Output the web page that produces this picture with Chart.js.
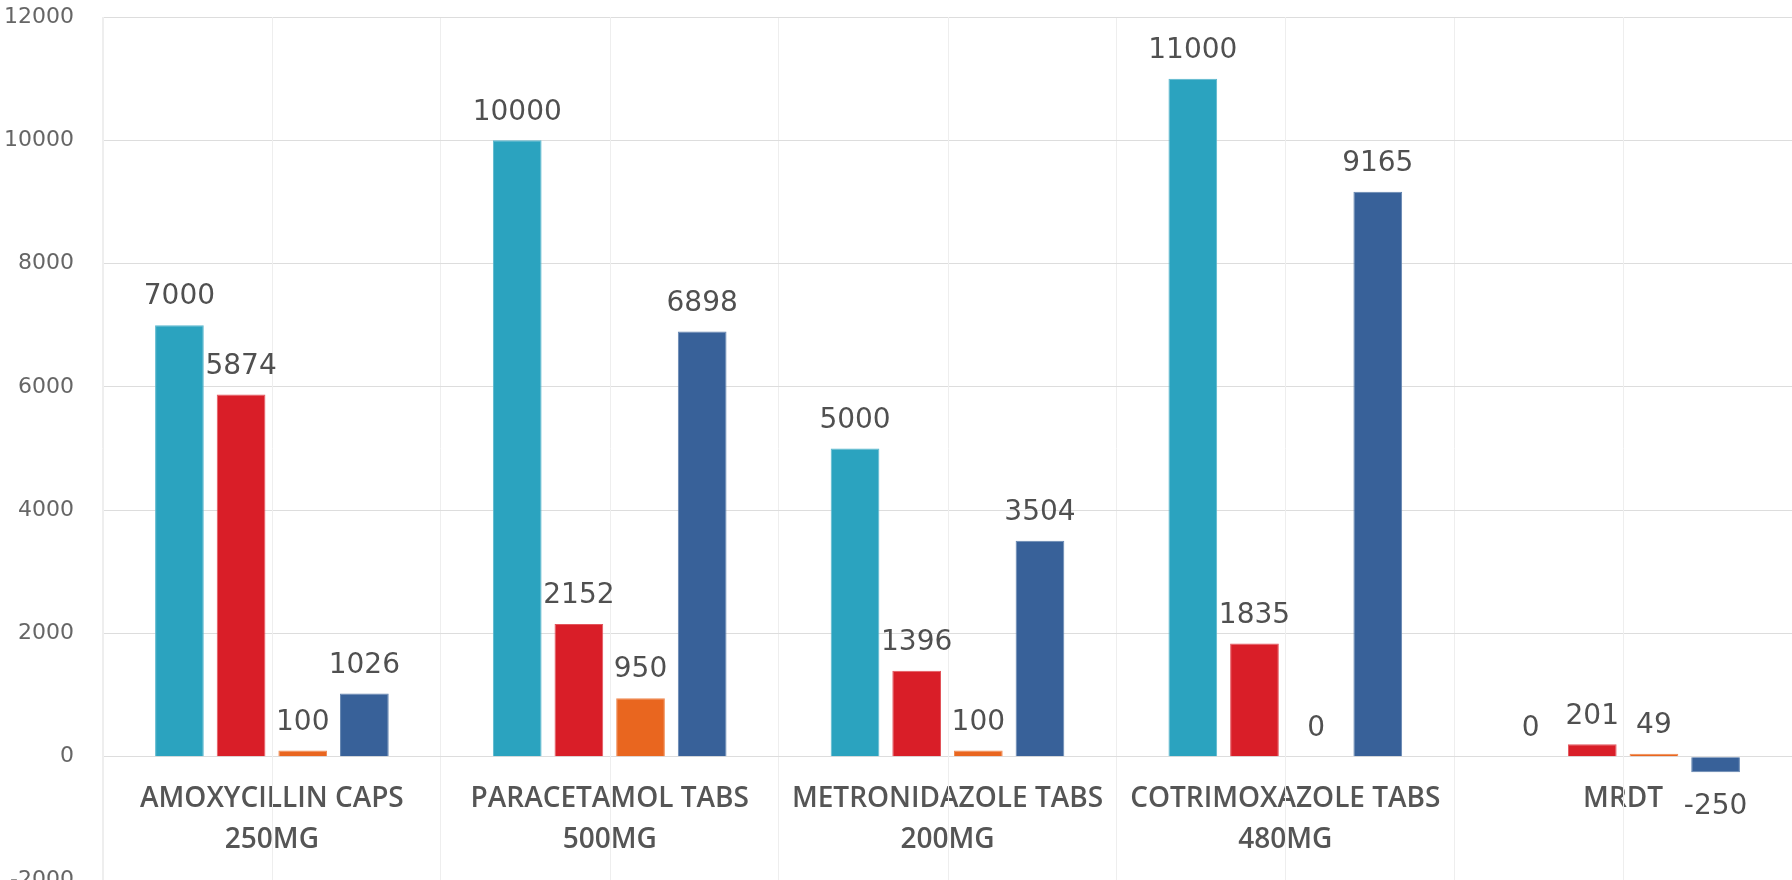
<!DOCTYPE html>
<html>
<head>
<meta charset="utf-8">
<script src="https://cdn.jsdelivr.net/npm/chart.js@4.4.1/dist/chart.umd.min.js"></script>
<style>
  html, body { margin: 0; padding: 0; background: #fff; overflow: hidden; }
  #wrap { position: relative; width: 1792px; height: 900px; }
</style>
</head>
<body>
<div id="wrap"><canvas id="stockChart"></canvas></div>
<script>
// categories (two lines each)
const categories = [
  ['AMOXYCILLIN CAPS', '250MG'],
  ['PARACETAMOL TABS', '500MG'],
  ['METRONIDAZOLE TABS', '200MG'],
  ['COTRIMOXAZOLE TABS', '480MG'],
  ['MRDT']
];

// series values
const series1 = [7000, 10000, 5000, 11000, 0];
const series2 = [5874, 2152, 1396, 1835, 201];
const series3 = [100, 950, 100, 0, 49];
const series4 = [1026, 6898, 3504, 9165, -250];

// y axis ticks
const yMin = -2000;
const yMax = 12000;
const yStep = 2000;

const colors = ['#2ba3bf', '#d91e28', '#e9661f', '#386199'];
const borders = ['#5ab7cd', '#e3555c', '#ef8a52', '#6485b0'];

// value labels above / below each bar
const valueLabels = {
  id: 'valueLabels',
  afterDatasetsDraw(chart) {
    const ctx = chart.ctx;
    ctx.save();
    ctx.font = '28px "DejaVu Sans"';
    ctx.fillStyle = '#505050';
    ctx.textAlign = 'center';
    ctx.textBaseline = 'middle';
    chart.data.datasets.forEach((ds, i) => {
      const meta = chart.getDatasetMeta(i);
      meta.data.forEach((bar, j) => {
        const v = ds.data[j];
        const y = v < 0 ? bar.y + 35 : bar.y - 28;
        ctx.fillText(String(v), bar.x, y);
      });
    });
    ctx.restore();
  }
};

// extra vertical grid lines through the middle of each category
const centerLines = {
  id: 'centerLines',
  beforeDatasetsDraw(chart) {
    const {ctx, chartArea} = chart;
    const x = chart.scales.x;
    ctx.save();
    ctx.strokeStyle = '#eeeeee';
    ctx.lineWidth = 1;
    categories.forEach((c, i) => {
      const px = Math.round(x.getPixelForValue(i)) + 0.5;
      ctx.beginPath();
      ctx.moveTo(px, chartArea.top);
      ctx.lineTo(px, chartArea.bottom);
      ctx.stroke();
    });
    ctx.restore();
  }
};

const mk = (data, i) => ({
  data: data,
  backgroundColor: colors[i],
  borderColor: borders[i],
  borderWidth: 1,
  categoryPercentage: 0.73,
  barPercentage: 0.79
});

new Chart(document.getElementById('stockChart'), {
  type: 'bar',
  data: {
    labels: categories,
    datasets: [mk(series1, 0), mk(series2, 1), mk(series3, 2), mk(series4, 3)]
  },
  options: {
    responsive: true,
    maintainAspectRatio: false,
    animation: false,
    layout: { padding: { top: 17, left: 0, right: 0, bottom: 20 } },
    plugins: { legend: { display: false }, tooltip: { enabled: false } },
    scales: {
      x: {
        position: { y: 0 },
        afterFit(scale) { scale.paddingLeft = 0; scale.paddingRight = 0; },
        grid: { color: '#eeeeee', drawTicks: false, offset: true },
        border: { color: '#dddddd' },
        ticks: {
          padding: 22,
          color: '#555555',
          font: { family: '"Open Sans"', size: 28, weight: '600', lineHeight: 1.46 },
          maxRotation: 0
        }
      },
      y: {
        min: yMin,
        max: yMax,
        afterFit(scale) { scale.width = 103; scale.paddingTop = 0; scale.paddingBottom = 0; },
        ticks: {
          stepSize: yStep,
          padding: 29,
          color: '#666666',
          font: { family: '"DejaVu Sans"', size: 22 },
          callback: (v) => String(v)
        },
        grid: { color: '#dddddd', drawTicks: false },
        border: { color: '#eeeeee' }
      }
    }
  },
  plugins: [centerLines, valueLabels]
});
</script>
</body>
</html>
